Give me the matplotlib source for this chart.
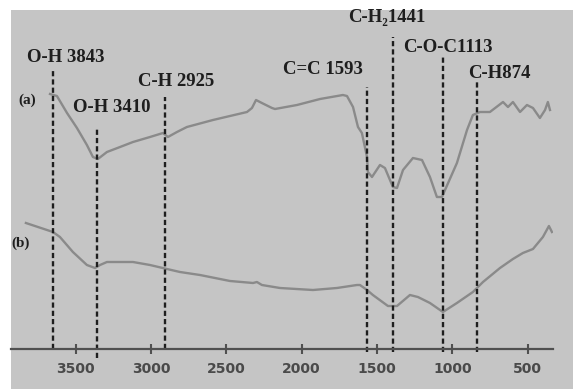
import numpy as np
import matplotlib
matplotlib.use("Agg")
import matplotlib.pyplot as plt
from matplotlib.patches import Rectangle

# FTIR spectra, wavenumber (cm-1) vs relative transmittance (arbitrary units)
wn_a = [3671, 3625, 3558, 3492, 3426, 3386, 3353, 3293, 3206, 3120, 3007, 2921,
        2888, 2828, 2762, 2589, 2363, 2330, 2303, 2264, 2197, 2177, 2031, 1878,
        1726, 1699, 1659, 1626, 1600, 1566, 1560, 1533, 1480, 1447, 1394, 1367,
        1327, 1261, 1201, 1148, 1102, 1068, 1048, 969, 902, 863, 816, 750, 663,
        630, 597, 550, 504, 464, 418, 384, 365, 351]
tr_a = [255, 253, 236, 221, 204, 192, 190, 197, 202, 207, 212, 216,
        212, 217, 222, 229, 237, 241, 249, 246, 241, 240, 244, 250,
        254, 253, 242, 222, 216, 192, 177, 172, 184, 181, 162, 161,
        179, 191, 189, 172, 152, 152, 159, 186, 219, 234, 237, 237, 247,
        242, 247, 237, 244, 241, 231, 239, 247, 239]

wn_b = [3831, 3651, 3605, 3519, 3426, 3372, 3339, 3293, 3120, 3007, 2894, 2808,
        2675, 2476, 2323, 2297, 2264, 2144, 1925, 1766, 1633, 1613, 1566, 1527,
        1427, 1367, 1281, 1228, 1148, 1062, 969, 863, 796, 683, 597, 531, 464,
        398, 358, 338]
tr_b = [126, 117, 112, 97, 84, 81, 84, 87, 87, 84, 80, 77,
        74, 68, 66, 67, 64, 61, 59, 61, 64, 64, 59, 54,
        43, 43, 54, 52, 46, 37, 46, 57, 67, 81, 90, 96, 100,
        112, 123, 117]

# assigned bands: label text and where the marker line sits on the drawn axis
band_labels = ["O-H 3843", "O-H 3410", "C-H 2925", "C=C 1593",
               "C-H\u20821441", "C-O-C1113", "C-H874"]
band_pos = [3652, 3359, 2908, 1566, 1394, 1062, 836]
band_top = [279, 222, 252, 262, 312, 294, 267]
band_bottom = [0, -9, 0, -3, -3, -3, -3]

xticks = [3500, 3000, 2500, 2000, 1500, 1000, 500]

# label anchor points (left, middle)
label_xy = [(3824, 291), (3519, 242), (3087, 267), (2124, 279),
            (1693, 331), (1327, 301), (896, 276)]

W, H = 573, 389
fig = plt.figure(figsize=(W / 100, H / 100), dpi=100)
fig.patch.set_facecolor("white")
fig.patches.append(Rectangle((11 / W, 0), 1, (H - 10) / H, transform=fig.transFigure,
                             facecolor="#c5c5c5", edgecolor="none", zorder=-10))

ax = fig.add_axes([11 / W, (H - 349) / H, 542 / W, 339 / H])
ax.set_facecolor("none")
ax.set_xlim(3930, 331)
ax.set_ylim(0, 339)

gray = "#8a8a8a"
ax.plot(wn_a, tr_a, color=gray, lw=1.7, solid_joinstyle="round")
ax.plot(wn_b, tr_b, color=gray, lw=1.7, solid_joinstyle="round")

for x, top, bot in zip(band_pos, band_top, band_bottom):
    ax.plot([x, x], [bot, top], color="#1e1e1e", lw=1.7, ls=(0, (2.2, 1.3)),
            clip_on=False)

serif = ["Liberation Serif", "DejaVu Serif"]
for txt, (x, y) in zip(band_labels, label_xy):
    ax.text(x, y, txt, ha="left", va="center", fontsize=13.5, fontweight="bold",
            family=serif, color="#1e1e1e")
ax.text(3884, 249, "(a)", ha="left", va="center", fontsize=11,
        fontweight="bold", family=serif, color="#1e1e1e")
ax.text(3930, 106, "(b)", ha="left", va="center", fontsize=11,
        fontweight="bold", family=serif, color="#1e1e1e")

for s in ["top", "left", "right"]:
    ax.spines[s].set_visible(False)
ax.spines["bottom"].set_color("#505050")
ax.spines["bottom"].set_linewidth(1.6)
ax.set_yticks([])
ax.set_xticks(xticks)
ax.set_xticklabels([str(t) for t in xticks], fontsize=10, fontweight="bold",
                   color="#4a4a4a")
ax.tick_params(axis="x", direction="inout", length=7, width=1.5,
               color="#505050", pad=6)

fig.savefig("out.png", dpi=100, facecolor=fig.get_facecolor())
